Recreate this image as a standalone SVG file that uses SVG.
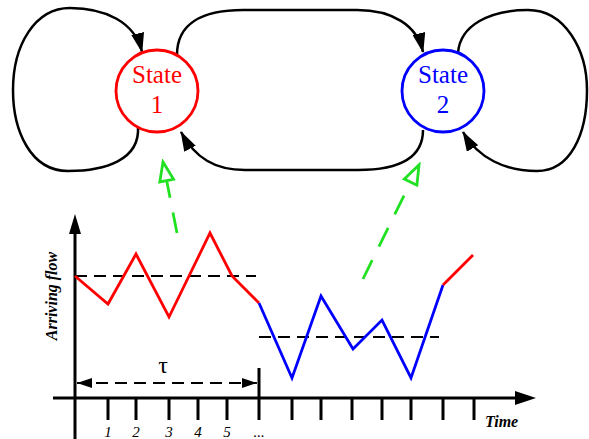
<svg xmlns="http://www.w3.org/2000/svg" width="589" height="439" viewBox="0 0 589 439">
<style>
.link{fill:none;stroke:#000;stroke-width:2.5}
.state{fill:#fff;stroke-width:2.8}
.green{fill:none;stroke:#22e022;stroke-width:2.8;stroke-dasharray:21 15}
.axis{fill:none;stroke:#000;stroke-width:3}
.tick{stroke:#000;stroke-width:3}
.dash{fill:none;stroke:#000;stroke-width:1.8;stroke-dasharray:12 7}
.flow{fill:none;stroke-width:2.8}
</style>
<defs>
<marker id="ah" viewBox="0 0 20 13" refX="19" refY="6.5" markerWidth="20" markerHeight="13" markerUnits="userSpaceOnUse" orient="auto">
<path d="M0,0 L20,6.5 L0,13 z" fill="#000"/>
</marker>
<marker id="ga" viewBox="0 0 24 18" refX="21" refY="9" markerWidth="24" markerHeight="18" markerUnits="userSpaceOnUse" orient="auto">
<path d="M2,2 L21,9 L2,16 z" fill="#fff" stroke="#22e022" stroke-width="2.8"/>
</marker>
<marker id="ta" viewBox="0 0 15 10" refX="15" refY="5" markerWidth="15" markerHeight="10" markerUnits="userSpaceOnUse" orient="auto-start-reverse">
<path d="M0,0 L15,5 L0,10 z" fill="#000"/>
</marker>
</defs>
<g id="connectors">
<path class="link" d="M177,55 C177,22 205,10 243,10 L357,10 C392,10 417,25 423,52" marker-end="url(#ah)"/>
<path class="link" d="M423,130 C423,160 395,170 358,170 L245,170 C215,170 195,158 181,132" marker-end="url(#ah)"/>
<path class="link" d="M138,127 C140,160 105,171 68,171 C30,171 13,130 13,90 C13,45 35,8 70,8 C105,8 135,22 142,52" marker-end="url(#ah)"/>
<path class="link" d="M458,53 C460,25 490,10 528,10 C565,10 587,50 587,90 C587,135 570,171 537,171 C505,171 478,158 463,132" marker-end="url(#ah)"/>
<path class="green" d="M177,233 L163,162" marker-end="url(#ga)"/>
<path class="green" d="M363,279 L419,165" marker-end="url(#ga)"/>
</g>
<g id="state1">
<circle class="state" cx="157" cy="91" r="41" stroke="#ff0000"/>
<text x="157" y="83" fill="#ff0000" text-anchor="middle" font-family="Liberation Serif" font-size="25">State</text>
<text x="157" y="113" fill="#ff0000" text-anchor="middle" font-family="Liberation Serif" font-size="25">1</text>
</g>
<g id="state2">
<circle class="state" cx="443" cy="91" r="41" stroke="#0000ff"/>
<text x="443" y="83" fill="#0000ff" text-anchor="middle" font-family="Liberation Serif" font-size="25">State</text>
<text x="443" y="113" fill="#0000ff" text-anchor="middle" font-family="Liberation Serif" font-size="25">2</text>
</g>
<g id="chart">
<line class="axis" x1="75" y1="445" x2="75" y2="232"/>
<path d="M75,214 L69,234 L81,234 z" fill="#000"/>
<line class="axis" x1="53" y1="398" x2="517" y2="398"/>
<path d="M536,398 L515,391 L515,405 z" fill="#000"/>
<g class="tick">
<line x1="108" y1="398" x2="108" y2="420"/>
<line x1="136" y1="398" x2="136" y2="420"/>
<line x1="169" y1="398" x2="169" y2="420"/>
<line x1="198" y1="398" x2="198" y2="420"/>
<line x1="227" y1="398" x2="227" y2="420"/>
<line x1="259" y1="368" x2="259" y2="420"/>
<line x1="292" y1="398" x2="292" y2="420"/>
<line x1="321" y1="398" x2="321" y2="420"/>
<line x1="352" y1="398" x2="352" y2="420"/>
<line x1="382" y1="398" x2="382" y2="420"/>
<line x1="411" y1="398" x2="411" y2="420"/>
<line x1="443" y1="398" x2="443" y2="420"/>
<line x1="474" y1="398" x2="474" y2="420"/>
</g>
<text x="108" y="437" text-anchor="middle" font-family="Liberation Serif" font-size="15" font-style="italic">1</text>
<text x="136" y="437" text-anchor="middle" font-family="Liberation Serif" font-size="15" font-style="italic">2</text>
<text x="169" y="437" text-anchor="middle" font-family="Liberation Serif" font-size="15" font-style="italic">3</text>
<text x="198" y="437" text-anchor="middle" font-family="Liberation Serif" font-size="15" font-style="italic">4</text>
<text x="227" y="437" text-anchor="middle" font-family="Liberation Serif" font-size="15" font-style="italic">5</text>
<text x="259" y="437" text-anchor="middle" font-family="Liberation Serif" font-size="15" font-style="italic">...</text>
<text x="485" y="427" font-family="Liberation Serif" font-size="16" font-style="italic" font-weight="bold">Time</text>
<text transform="translate(57,296) rotate(-90)" text-anchor="middle" font-family="Liberation Serif" font-size="16" font-style="italic" font-weight="bold">Arriving flow</text>
<line class="dash" x1="75" y1="276" x2="256" y2="276"/>
<line class="dash" x1="259" y1="337" x2="439" y2="337"/>
<line class="dash" x1="77" y1="383" x2="257" y2="383" marker-start="url(#ta)" marker-end="url(#ta)"/>
<text x="163" y="373" text-anchor="middle" font-family="Liberation Serif" font-size="24">τ</text>
<polyline class="flow" stroke="#ff0000" points="75,276 108,304 136,254 169,317 210,233 232,276 259,303"/>
<polyline class="flow" stroke="#0000ff" points="259,303 292,378 321,296 353,349 382,320 411,378 443,285"/>
<polyline class="flow" stroke="#ff0000" points="443,285 473,255"/>
</g>
</svg>
